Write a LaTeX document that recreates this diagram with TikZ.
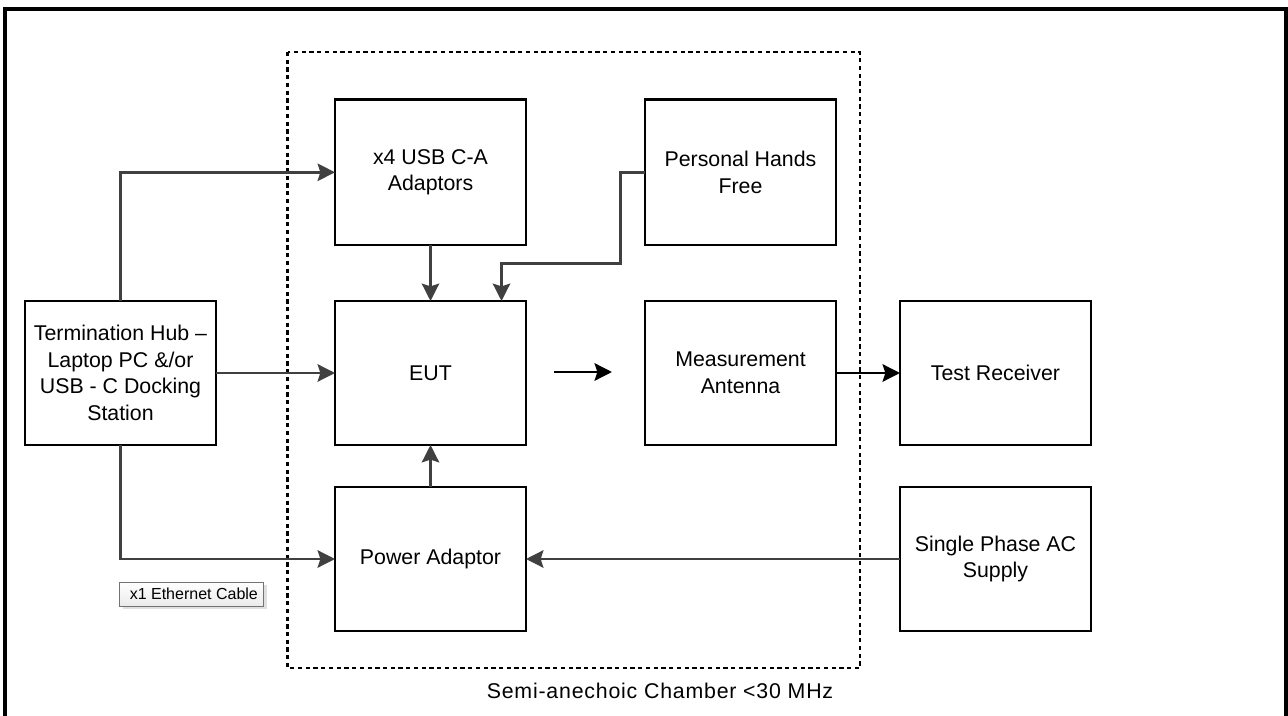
\documentclass[tikz,border=0pt]{standalone}
\usepackage{fontspec}
\setmainfont{Liberation Sans}
\newfontfamily\capfont[LetterSpace=3.7]{Liberation Sans}
\usetikzlibrary{arrows.meta,calc}
\tikzset{
  x=0.75pt,y=-0.75pt,
  block/.style={draw=black,line width=1.9pt,fill=white,minimum width=143.25pt,minimum height=108pt,inner sep=0pt,outer sep=0pt,align=center,font=\fontsize{16}{20}\selectfont},
  tallblock/.style={block,minimum height=109pt},
  graylink/.style={draw=black!75,line width=2.1pt,-{Stealth[length=13pt,width=13pt,inset=2pt]}},
  blacklink/.style={draw=black,line width=2.1pt,-{Stealth[length=13pt,width=13pt,inset=2pt]}},
  frameline/.style={draw=black,line width=3pt},
  chamber/.style={draw=black,line width=1.7pt,dash pattern=on 3.2pt off 2.6pt},
  tag/.style={draw=black!55,line width=0.6pt,top color=white,bottom color=black!8,minimum width=108pt,minimum height=18pt,inner sep=0pt,outer sep=0pt,font=\fontsize{12}{14}\selectfont},
  tagshadow/.style={fill=black!12,draw=none,minimum width=108pt,minimum height=18pt,inner sep=0pt},
  caption/.style={inner sep=0pt,font=\capfont\fontsize{16}{18}\selectfont},
}
\begin{document}
\begin{tikzpicture}
\useasboundingbox (0,0) rectangle (1288,716);
\clip (0,0) rectangle (1288,716);
\fill[white] (0,0) rectangle (1288,716);
% outer frame, bottom edge lies off the page
\draw[frameline] (4.5,730) -- (4.5,9) -- (1286,9) -- (1286,730);
% chamber
\draw[chamber] (287.5,52) rectangle (860,668);
% blocks
\node[tallblock] (usb) at (430.5,172.3) {x4 USB C-A\\Adaptors};
\node[tallblock] (phf) at (740.5,172.3) {Personal Hands\\Free};
\node[block] (eut) at (430.5,373) {EUT};
\node[block] (ant) at (740.5,373) {Measurement\\Antenna};
\node[block] (rcv) at (995.5,373) {Test Receiver};
\node[block] (hub) at (120.5,373) {Termination Hub –\\Laptop PC \&/or\\USB - C Docking\\Station};
\node[block] (pwr) at (430.5,559) {Power Adaptor};
\node[block] (sup) at (995.5,559) {Single Phase AC\\Supply};
% connector helpers
\coordinate (phfa) at ($(phf.west)+(-24.5,0)$);
\coordinate (phfb) at (620.5,263.5);
\coordinate (phfc) at (501.5,263.5);
\coordinate (eutphf) at (eut.north -| phfc);
\coordinate (wavea) at (554,372);
\coordinate (waveb) at (612,372);
% connectors
\draw[graylink] (hub.north) |- (usb.west);
\draw[graylink] (hub.east) -- (eut.west);
\draw[graylink] (hub.south) |- (pwr.west);
\draw[graylink] (usb.south) -- (eut.north);
\draw[graylink] (pwr.north) -- (eut.south);
\draw[graylink] (phf.west) -- (phfa) -- (phfb) -- (phfc) -- (eutphf);
\draw[graylink] (sup.west) -- (pwr.east);
\draw[blacklink] (wavea) -- (waveb);
\draw[blacklink] (ant.east) -- (rcv.west);
% tag
\node[tagshadow] (tagsh) at (194.5,597) {};
\node[tag] (tag) at (191.5,594) {\hspace*{3.5pt}x1 Ethernet Cable};
% caption
\node[caption,anchor=center] (cap) at (660,691) {Semi-anechoic Chamber <30 MHz};
\end{tikzpicture}
\end{document}
